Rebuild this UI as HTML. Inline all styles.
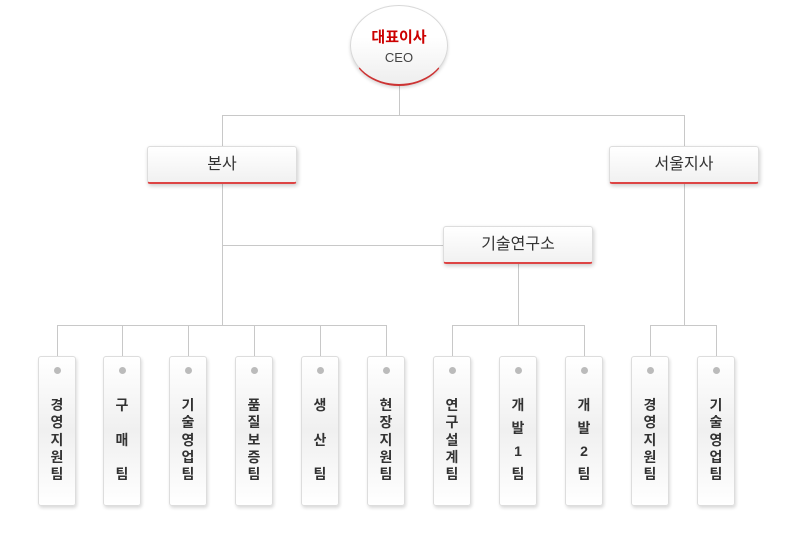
<!DOCTYPE html>
<html><head><meta charset="utf-8"><style>
body{margin:0;width:800px;height:548px;background:#fff;position:relative;overflow:hidden;font-family:"Liberation Sans","Noto Sans CJK KR",sans-serif}
.l{position:absolute;background:#c8c8c8}
.ceo{position:absolute;left:350px;top:5px;width:98px;height:81px;border-radius:50%;background:linear-gradient(#fff 40%,#eee);border:1px solid #d8d8d8;border-bottom:2px solid #c33;box-sizing:border-box;box-shadow:0 2px 3px rgba(0,0,0,.15);text-align:center}
.ceo .a{color:#c00;font-weight:bold;font-size:15px;margin-top:20px}
.ceo .b{color:#444;font-size:13px;margin-top:3px}
.box{position:absolute;width:150px;height:38px;box-sizing:border-box;border:1px solid #ddd;border-bottom:2px solid #d44;border-radius:3px;background:linear-gradient(#fff,#f1f1f1);box-shadow:1px 2px 4px rgba(0,0,0,.2);text-align:center;line-height:36px;font-size:16px;color:#333}
.c{position:absolute;top:356px;width:38px;height:150px;box-sizing:border-box;border:1px solid #ddd;border-radius:3px;background:linear-gradient(#fff,#f0f0f0 50%,#fff);box-shadow:1px 2px 3px rgba(0,0,0,.15)}
.c:before{content:"";position:absolute;left:15px;top:10px;width:7px;height:7px;border-radius:50%;background:#bbb}
.c div{position:absolute;left:0;right:0;top:40px;height:86px;display:flex;flex-direction:column;justify-content:space-between;align-items:center;font-size:14px;font-weight:bold;color:#333;line-height:17px}
</style></head><body>
<div class="l" style="left:399px;top:86px;width:1px;height:29px"></div>
<div class="l" style="left:222px;top:115px;width:463px;height:1px"></div>
<div class="l" style="left:222px;top:115px;width:1px;height:210px"></div>
<div class="l" style="left:684px;top:115px;width:1px;height:210px"></div>
<div class="l" style="left:222px;top:245px;width:222px;height:1px"></div>
<div class="l" style="left:518px;top:264px;width:1px;height:61px"></div>
<div class="l" style="left:57px;top:325px;width:330px;height:1px"></div>
<div class="l" style="left:452px;top:325px;width:133px;height:1px"></div>
<div class="l" style="left:650px;top:325px;width:67px;height:1px"></div>
<div class="l" style="left:57px;top:325px;width:1px;height:31px"></div>
<div class="l" style="left:122px;top:325px;width:1px;height:31px"></div>
<div class="l" style="left:188px;top:325px;width:1px;height:31px"></div>
<div class="l" style="left:254px;top:325px;width:1px;height:31px"></div>
<div class="l" style="left:320px;top:325px;width:1px;height:31px"></div>
<div class="l" style="left:386px;top:325px;width:1px;height:31px"></div>
<div class="l" style="left:452px;top:325px;width:1px;height:31px"></div>
<div class="l" style="left:584px;top:325px;width:1px;height:31px"></div>
<div class="l" style="left:650px;top:325px;width:1px;height:31px"></div>
<div class="l" style="left:716px;top:325px;width:1px;height:31px"></div>
<div class="ceo"><div class="a">대표이사</div><div class="b">CEO</div></div>
<div class="box" style="left:147px;top:146px">본사</div>
<div class="box" style="left:609px;top:146px">서울지사</div>
<div class="box" style="left:443px;top:226px">기술연구소</div>
<div class="c" style="left:38px"><div><span>경</span><span>영</span><span>지</span><span>원</span><span>팀</span></div></div>
<div class="c" style="left:103px"><div><span>구</span><span>매</span><span>팀</span></div></div>
<div class="c" style="left:169px"><div><span>기</span><span>술</span><span>영</span><span>업</span><span>팀</span></div></div>
<div class="c" style="left:235px"><div><span>품</span><span>질</span><span>보</span><span>증</span><span>팀</span></div></div>
<div class="c" style="left:301px"><div><span>생</span><span>산</span><span>팀</span></div></div>
<div class="c" style="left:367px"><div><span>현</span><span>장</span><span>지</span><span>원</span><span>팀</span></div></div>
<div class="c" style="left:433px"><div><span>연</span><span>구</span><span>설</span><span>계</span><span>팀</span></div></div>
<div class="c" style="left:499px"><div><span>개</span><span>발</span><span>1</span><span>팀</span></div></div>
<div class="c" style="left:565px"><div><span>개</span><span>발</span><span>2</span><span>팀</span></div></div>
<div class="c" style="left:631px"><div><span>경</span><span>영</span><span>지</span><span>원</span><span>팀</span></div></div>
<div class="c" style="left:697px"><div><span>기</span><span>술</span><span>영</span><span>업</span><span>팀</span></div></div>
</body></html>
